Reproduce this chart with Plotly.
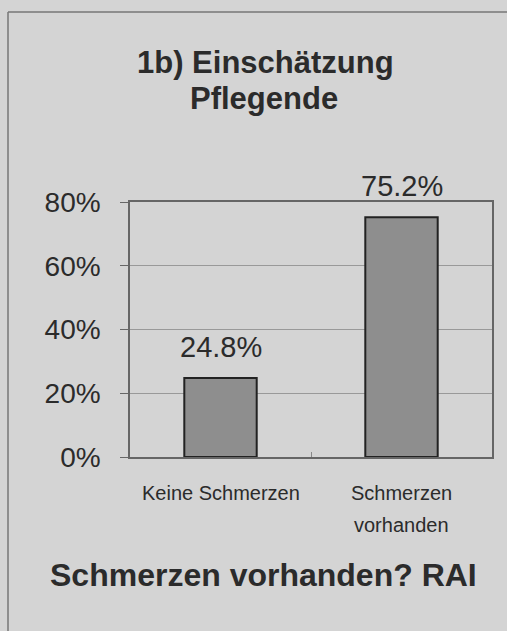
import plotly.graph_objects as go

categories = ["Keine Schmerzen", "Schmerzen vorhanden"]
category_lines = [["Keine Schmerzen"], ["Schmerzen", "vorhanden"]]
values = [24.8, 75.2]
value_labels = ["24.8%", "75.2%"]
y_ticks = [0, 20, 40, 60, 80]
y_tick_labels = ["0%", "20%", "40%", "60%", "80%"]

W, H = 507, 631
L, R, T, B = 130, 15, 202, 174
pw, ph = W - L - R, H - T - B

def px(x):
    return (x - L) / pw

def py(y):
    return 1 - (y - T) / ph

bg = "#d4d4d4"
txt = "#2b2b2b"
font = "Liberation Sans, Arial, sans-serif"

fig = go.Figure()
fig.add_trace(go.Bar(
    x=categories, y=values, width=0.4,
    marker=dict(color="#8e8e8e", line=dict(color="#222222", width=2)),
    hoverinfo="skip",
))

for c, v, t in zip(categories, values, value_labels):
    fig.add_annotation(x=c, y=v, text=t, showarrow=False, yshift=31,
                       xanchor="center", yanchor="middle",
                       font=dict(family=font, size=29, color=txt))

for c, lines in zip(categories, category_lines):
    for i, line in enumerate(lines):
        fig.add_annotation(x=c, xref="x", yref="paper", y=py(493 + 32 * i), text=line,
                           showarrow=False, xanchor="center", yanchor="middle",
                           font=dict(family=font, size=20, color=txt))

def title_ann(x, y, text, size):
    fig.add_annotation(xref="paper", yref="paper", x=px(x), y=py(y), text="<b>%s</b>" % text,
                       showarrow=False, xanchor="center", yanchor="middle",
                       font=dict(family=font, size=size, color=txt))

title_ann(265, 62, "1b) Einschätzung", 31)
title_ann(264, 98, "Pflegende", 31)
title_ann(263, 575, "Schmerzen vorhanden? RAI", 32)

# outer frame lines
fig.add_shape(type="line", xref="paper", yref="paper", x0=px(8), x1=px(8), y0=py(12), y1=py(640),
              line=dict(color="#777777", width=1.5))
fig.add_shape(type="line", xref="paper", yref="paper", x0=px(8), x1=px(520), y0=py(12), y1=py(12),
              line=dict(color="#777777", width=1.5))

fig.update_layout(
    width=W, height=H,
    margin=dict(l=L, r=R, t=T, b=B),
    paper_bgcolor=bg, plot_bgcolor=bg,
    showlegend=False,
    font=dict(family=font, color=txt),
)
fig.update_xaxes(
    type="category", showline=True, mirror=True, linecolor="#666666", linewidth=1.5,
    ticks="inside", tickson="boundaries", ticklen=5, tickcolor="#888888",
    showticklabels=False, showgrid=False,
)
fig.update_yaxes(
    range=[0, 80], tickvals=y_ticks, ticktext=y_tick_labels,
    showline=True, mirror=True, linecolor="#666666", linewidth=1.5,
    ticks="outside", ticklen=8, tickcolor="#666666",
    tickfont=dict(family=font, size=28, color=txt), ticklabelstandoff=14,
    showgrid=True, gridcolor="#999999", gridwidth=1, zeroline=False,
)

fig.write_html("out.html", config={"displayModeBar": False},
               post_script="document.body.style.margin='0';document.body.style.background='%s';" % bg)
